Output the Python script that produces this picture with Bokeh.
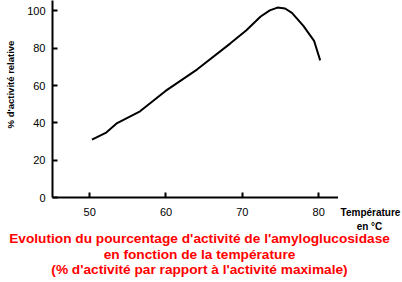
import math
from bokeh.plotting import figure
from bokeh.layouts import row, column
from bokeh.models import Range1d, FixedTicker, Label
from bokeh.embed import file_html
from bokeh.resources import INLINE

# Data
temperature = [50.3, 52.1, 53.6, 56.6, 59.9, 64.1, 68.4, 70.5, 72.4, 73.6, 74.6, 75.6, 76.5, 78.0, 79.4, 80.2]
activity = [31.0, 34.6, 39.9, 46.2, 57.0, 68.7, 82.5, 89.5, 97.0, 100.3, 101.8, 101.3, 99.0, 92.0, 84.0, 73.5]

x_ticks = [50, 60, 70, 80]
y_ticks = [0, 20, 40, 60, 80, 100]

y_title = "% d'activité relative"
x_title = "Température"
x_unit = "en °C"
caption = [
    "Evolution du pourcentage d'activité de l'amyloglucosidase",
    "en fonction de la température",
    "(% d'activité par rapport à l'activité maximale)",
]

FONT = "Liberation Sans"
W, H = 402, 282
ROW_H = 230          # height of the upper row (plot + side texts)
LEFT_W = 22          # strip holding the y title
RIGHT_W = 64         # strip holding the x title
MAIN_W = W - LEFT_W - RIGHT_W
X0, X1 = 45.13, 82.60
Y0, Y1 = 0, 105.6


def no_align(f):
    try:
        f.frame_align = False
    except Exception:
        pass


def text_fig(w, h):
    f = figure(width=w, height=h, output_backend="svg", toolbar_location=None,
               x_range=Range1d(0, w), y_range=Range1d(0, h),
               x_axis_type=None, y_axis_type=None,
               min_border_left=0, min_border_right=0, min_border_top=0, min_border_bottom=0)
    f.outline_line_color = None
    f.background_fill_color = "white"
    f.border_fill_color = "white"
    no_align(f)
    return f


def put(f, px, py, text, size, color="black", align="center", baseline="middle", angle=0.0):
    # px, py: pixel position inside the strip, measured from its top-left corner
    f.add_layout(Label(x=px, y=f.height - py, text=text, angle=angle,
                       text_align=align, text_baseline=baseline,
                       text_font=FONT, text_font_style="bold", text_font_size=size,
                       text_color=color))


# main plot
p = figure(width=MAIN_W, height=ROW_H, output_backend="svg", toolbar_location=None,
           x_range=Range1d(X0, X1), y_range=Range1d(Y0, Y1),
           min_border_left=52 - LEFT_W, min_border_right=0,
           min_border_top=0, min_border_bottom=ROW_H - 197)
p.outline_line_color = None
p.grid.visible = False
p.background_fill_color = "white"
p.border_fill_color = "white"
no_align(p)

p.line(temperature, activity, line_color="black", line_width=2)

for ax, ticks in ((p.xaxis[0], x_ticks), (p.yaxis[0], y_ticks)):
    ax.ticker = FixedTicker(ticks=ticks)
    ax.axis_line_width = 2
    ax.axis_line_color = "black"
    ax.major_tick_line_width = 2
    ax.major_tick_line_color = "black"
    ax.major_tick_in = 5
    ax.major_tick_out = 0
    ax.minor_tick_line_color = None
    ax.major_label_text_font = FONT
    ax.major_label_text_font_size = "11px"
    ax.major_label_text_color = "black"
p.yaxis[0].major_label_standoff = 7
p.xaxis[0].major_label_standoff = 10

# y title strip
left = text_fig(LEFT_W, ROW_H)
put(left, 10, 84, y_title, "9.5px", angle=math.pi / 2)

# x title strip
right = text_fig(RIGHT_W, ROW_H)
put(right, 370 - (W - RIGHT_W), 212, x_title, "10px")
put(right, 369 - (W - RIGHT_W), 225.5, x_unit, "10px")

# caption strip
cap = text_fig(W, H - ROW_H)
for line, base in zip(caption, (237.5, 253.5, 269.0)):
    put(cap, 199, base - ROW_H, line, "13.7px", color="#ff0000", baseline="alphabetic")

layout = column(row(left, p, right, spacing=0), cap, spacing=0)
open("out.html", "w").write(file_html(layout, INLINE))
